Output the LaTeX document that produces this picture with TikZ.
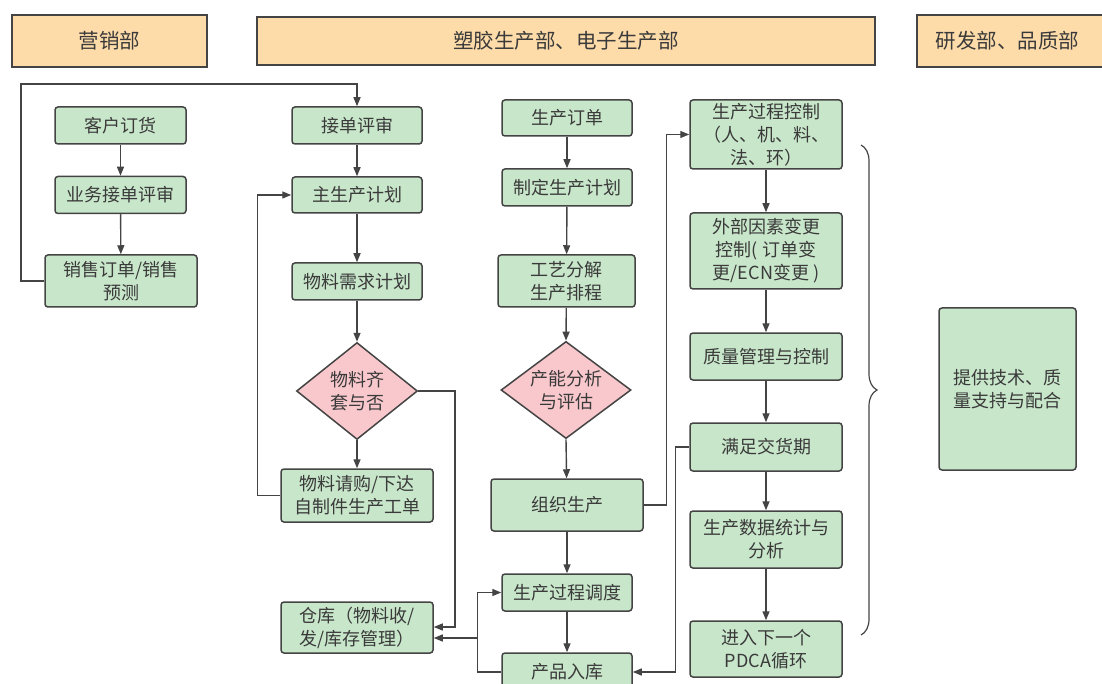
\documentclass[tikz,border=0pt]{standalone}
\usepackage{fontspec}
\setmainfont{Noto Sans CJK SC}
\usetikzlibrary{shapes.geometric,arrows.meta,decorations.pathreplacing,calc}
\definecolor{boxg}{HTML}{C8E6CA}
\definecolor{hdr}{HTML}{FDDCAA}
\definecolor{dia}{HTML}{F8C8CC}
\definecolor{linec}{HTML}{444444}
\definecolor{txt}{HTML}{3A3A3A}
\tikzset{
  base/.style={draw=linec, line width=1.5pt, inner sep=0pt, align=center, text=txt,
    font=\fontsize{18}{23}\selectfont},
  gbox/.style={base, fill=boxg, rounded corners=3pt},
  hbox/.style={base, fill=hdr, font=\fontsize{20.5}{24}\selectfont},
  dbox/.style={base, fill=dia, shape=diamond, aspect=1.25},
  arr/.style={draw=linec, line width=1.4pt, -{Triangle[length=9pt,width=7pt]}},
  ln/.style={draw=linec, line width=1.4pt},
}
\begin{document}
\begin{tikzpicture}[x=1pt,y=-1pt]
\useasboundingbox (0,0) rectangle (1102,684);
% headers
\node[hbox, minimum width=195pt, minimum height=52pt] (h1) at (109.5,41) {营销部};
\node[hbox, minimum width=618pt, minimum height=48pt] (h2) at (566,41) {塑胶生产部、电子生产部};
\node[hbox, minimum width=189pt, minimum height=52pt] (h3) at (1011.5,41) {\hspace*{-4pt}研发部、品质部\hspace*{4pt}};
% column 1
\node[gbox, minimum width=131pt, minimum height=37pt] (a1) at (120.5,125.5) {客户订货};
\node[gbox, minimum width=131pt, minimum height=37pt] (a2) at (120.5,195) {业务接单评审};
\node[gbox, minimum width=152pt, minimum height=52pt] (a3) at (121,281) {销售订单/销售\\预测};
% column 2
\node[gbox, minimum width=130pt, minimum height=37pt] (b1) at (357,125.5) {接单评审};
\node[gbox, minimum width=130pt, minimum height=36pt] (b2) at (357,195) {主生产计划};
\node[gbox, minimum width=130pt, minimum height=37pt] (b3) at (357,281.5) {物料需求计划};
\node[dbox, minimum width=121pt, minimum height=97pt] (b4) at (357,391) {物料齐\\套与否};
\node[gbox, minimum width=152pt, minimum height=53pt] (b5) at (357,495.5) {物料请购/下达\\自制件生产工单};
\node[gbox, minimum width=152pt, minimum height=51pt] (b6) at (357,627.5) {仓库（物料收/\\发/库存管理）};
% column 3
\node[gbox, minimum width=130pt, minimum height=36pt] (c1) at (567,118) {生产订单};
\node[gbox, minimum width=130pt, minimum height=37pt] (c2) at (567,187.5) {制定生产计划};
\node[gbox, minimum width=137pt, minimum height=52pt] (c3) at (566.5,281) {工艺分解\\生产排程};
\node[dbox, minimum width=130pt, minimum height=96pt] (c4) at (566,390) {产能分析\\与评估};
\node[gbox, minimum width=152pt, minimum height=52pt] (c5) at (567,505) {组织生产};
\node[gbox, minimum width=130pt, minimum height=37pt] (c6) at (567,592.5) {生产过程调度};
\node[gbox, minimum width=130pt, minimum height=38pt] (c7) at (567,672) {产品入库};
% column 4
\node[gbox, minimum width=152pt, minimum height=69pt] (d1) at (766,134.5) {生产过程控制\\（人、机、料、\\法、环）};
\node[gbox, minimum width=152pt, minimum height=76pt] (d2) at (766,251) {外部因素变更\\控制( 订单变\\更/ECN变更 )};
\node[gbox, minimum width=152pt, minimum height=47pt] (d3) at (766,356.5) {质量管理与控制};
\node[gbox, minimum width=152pt, minimum height=48pt] (d4) at (766,447) {满足交货期};
\node[gbox, minimum width=152pt, minimum height=57pt] (d5) at (766,539.5) {生产数据统计与\\分析};
\node[gbox, minimum width=152pt, minimum height=56pt] (d6) at (766,649) {进入下一个\\PDCA循环};
% column 5
\node[gbox, minimum width=137pt, minimum height=162pt] (e1) at (1007.5,389) {提供技术、质\\量支持与配合};
% connectors column 1
\draw[arr] (a1) -- (a2);
\draw[arr] (a2) -- (a3);
\coordinate (p1) at (21,84);
\draw[arr] (a3.west) -| (p1) -| (b1.north);
% column 2
\draw[arr] (b1) -- (b2);
\draw[arr] (b2) -- (b3);
\draw[arr] (b3) -- (b4.north);
\draw[arr] (b4.south) -- (b5);
\draw[arr] (b5.west) -- ++(-23,0) |- (b2.west);
\coordinate (q1) at (455,627);
\draw[arr] (b4.east) -| (q1) -- (b6.east |- q1);
% column 3
\draw[arr] (c1) -- (c2);
\draw[arr] (c2) -- (c3);
\draw[arr] (c3) -- (c4.north);
\draw[arr] (c4.south) -- (c5);
\draw[arr] (c5) -- (c6);
\draw[arr] (c6) -- (c7);
\draw[arr] (c5.east) -- ++(23,0) |- (d1.west);
\draw[arr] (c7.west) -- ++(-24,0) |- (c6.west);
\coordinate (r1) at (478,638);
\draw[arr] (r1) -- (b6.east |- r1);
% column 4
\draw[arr] (d1) -- (d2);
\draw[arr] (d2) -- (d3);
\draw[arr] (d3) -- (d4);
\draw[arr] (d4) -- (d5);
\draw[arr] (d5) -- (d6);
\draw[arr] (d4.west) -- ++(-14,0) |- (c7.east);
% brace
\coordinate (br1) at (861,145);
\coordinate (br2) at (861,635);
\draw[ln, line width=1.2pt, decorate, decoration={brace, amplitude=16pt}] (br1) -- (br2);
\end{tikzpicture}
\end{document}
